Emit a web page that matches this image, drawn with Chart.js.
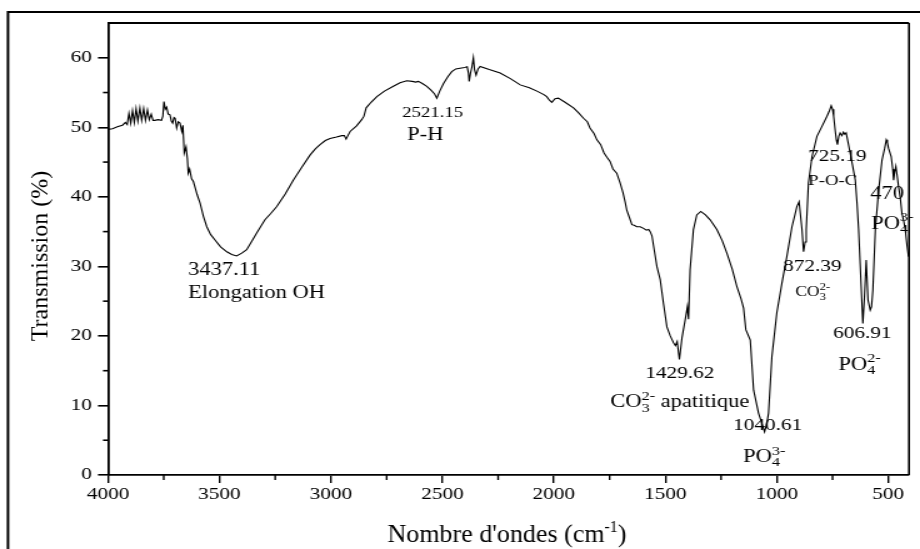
<!DOCTYPE html>
<html>
<head>
<meta charset="utf-8">
<script src="https://cdn.jsdelivr.net/npm/chart.js@4.4.1/dist/chart.umd.min.js"></script>
<style>
    html, body { margin: 0; padding: 0; background: #fff; overflow: hidden; }
    /* le graphique d'origine est étiré horizontalement */
    #cadre { width: 736px; height: 549px; transform: scaleX(1.25); transform-origin: 0 0; }
</style>
</head>
<body>
<div id="cadre"><canvas id="ftir" width="736" height="549"></canvas></div>
<script>
// Spectre IR : nombre d'ondes (cm-1) et transmission (%)
const nombreOnde = [
    4000, 3980, 3955, 3935, 3922, 3914, 3906, 3898, 3890, 3882, 3874, 3866, 3857, 3849, 3840, 3832,
    3823, 3815, 3806, 3798, 3790, 3775, 3760, 3754, 3749, 3743, 3737,
    3730, 3722, 3716, 3710, 3704, 3699, 3692, 3685, 3677, 3669, 3664, 3658, 3650, 3644, 3640, 3634,
    3625, 3617, 3600, 3587, 3572, 3557, 3540, 3520, 3495, 3467, 3445, 3423, 3400, 3378, 3355, 3333,
    3296, 3270, 3243, 3205, 3169, 3130, 3094, 3070, 3049, 3025, 3004, 2975, 2951, 2940, 2932, 2924,
    2914, 2885, 2862, 2852, 2842, 2820, 2794, 2760, 2720, 2690, 2660, 2635, 2620, 2608, 2590, 2570,
    2550, 2535, 2525, 2512, 2495, 2475, 2458, 2440, 2421, 2400, 2389, 2383, 2380, 2374, 2368, 2361,
    2356, 2349, 2340, 2331, 2290, 2241, 2195, 2151, 2110, 2076, 2045, 2032, 2020, 2009, 1995, 1980,
    1950, 1912, 1890, 1867, 1850, 1838, 1820, 1807, 1790, 1775, 1762, 1748, 1735, 1718, 1703, 1690,
    1680, 1673, 1662, 1650, 1640, 1628, 1613, 1600, 1585, 1575, 1568, 1560, 1550, 1538, 1523, 1508,
    1493, 1478, 1463, 1455, 1447, 1437, 1425, 1411, 1401, 1396, 1389, 1374, 1359, 1341, 1320, 1299,
    1269, 1245, 1224, 1200, 1179, 1160, 1149, 1139, 1119, 1104, 1082, 1065, 1055, 1045, 1037, 1022,
    1007, 1000, 977, 955, 932, 918, 910, 900, 887, 880, 873, 868, 858, 842, 820, 798,
    775, 765, 756, 750, 745, 738, 733, 728, 722, 716, 708, 701, 695, 689, 680, 671,
    660, 648, 640, 633, 623, 614, 607, 599, 591, 581, 575, 569, 558, 543, 528, 516,
    509, 504, 499, 487, 480, 476, 471, 466, 460, 454, 446, 439, 430, 424, 416, 409
];
const transmission = [
    49.7, 49.8, 50.1, 50.3, 50.7, 50.4, 52.0, 50.6, 52.4, 50.7, 52.7, 50.9, 52.8, 51.0, 52.7, 51.0,
    52.5, 51.1, 51.9, 51.0, 51.0, 51.1, 51.0, 51.6, 53.7, 52.6, 52.9,
    51.9, 51.8, 50.9, 50.6, 51.4, 51.3, 49.9, 50.8, 50.6, 49.4, 50.3, 46.3, 47.2, 45.5, 43.4, 44.0,
    42.6, 42.2, 40.3, 39.1, 37.2, 35.7, 34.6, 33.8, 32.8, 32.1, 31.7, 31.5, 31.9, 32.4, 33.6, 34.8,
    36.7, 37.6, 38.6, 40.4, 42.4, 44.3, 46.0, 46.9, 47.5, 48.1, 48.4, 48.6, 48.8, 48.8, 48.3, 48.8,
    49.4, 50.2, 51.1, 51.6, 52.8, 53.6, 54.4, 55.2, 55.9, 56.4, 56.7, 56.6, 56.5, 56.6, 56.3, 55.9,
    55.3, 54.8, 54.2, 55.2, 56.3, 57.3, 58.0, 58.4, 58.5, 58.6, 58.7, 57.8, 56.6, 57.8, 58.6, 60.0,
    58.3, 57.5, 58.4, 58.75, 58.3, 57.8, 57.0, 56.1, 55.7, 55.2, 54.7, 54.4, 53.9, 53.6, 54.1, 54.2,
    53.6, 52.8, 52.1, 51.3, 50.8, 49.9, 49.1, 48.2, 47.5, 46.3, 45.7, 45.1, 44.0, 43.4, 42.0, 40.6,
    39.2, 38.1, 37.1, 36.0, 35.9, 35.7, 35.7, 35.5, 35.2, 35.3, 35.0, 34.4, 32.4, 30.0, 28.1, 24.6,
    21.3, 20.0, 19.0, 18.6, 19.2, 16.6, 19.8, 22.3, 24.2, 22.4, 29.5, 35.3, 37.4, 37.9, 37.4, 36.7,
    35.3, 33.7, 31.9, 29.6, 27.1, 25.3, 24.0, 20.9, 19.4, 12.2, 8.9, 7.2, 6.2, 7.4, 8.9, 17.0,
    21.3, 23.3, 27.6, 31.4, 35.7, 37.5, 38.6, 39.3, 35.3, 32.1, 33.5, 35.3, 42.0, 45.8, 48.7, 50.1,
    51.6, 52.3, 53.1, 52.6, 51.6, 49.5, 48.2, 47.5, 48.7, 49.2, 48.8, 49.3, 49.0, 49.2, 47.8, 46.3,
    44.5, 42.4, 39.0, 35.3, 28.1, 21.8, 25.5, 30.9, 25.2, 23.7, 24.2, 26.6, 35.3, 41.0, 45.3, 47.0,
    48.2, 47.8, 47.0, 45.8, 44.0, 42.4, 43.6, 44.4, 43.0, 41.5, 39.8, 37.7, 36.4, 35.3, 33.0, 31.4
];

const xTicks = [4000, 3500, 3000, 2500, 2000, 1500, 1000, 500];
const xMinor = [3750, 3250, 2750, 2250, 1750, 1250, 750];
const yTicks = [0, 10, 20, 30, 40, 50, 60];
const yMinor = [5, 15, 25, 35, 45, 55];

// Attributions des bandes (position en cm-1 / %)
const etiquettes = [
    { wn: 3641, t: 29.5, txt: '3437.11', taille: 18 },
    { wn: 3641, t: 26.2, txt: 'Elongation OH', taille: 18 },
    { wn: 2681, t: 52.1, txt: '2521.15', taille: 15 },
    { wn: 2658, t: 48.8, txt: 'P-H', taille: 18 },
    { wn: 859, t: 45.8, txt: '725.19', taille: 17 },
    { wn: 859, t: 42.3, txt: 'P-O-C', taille: 15 },
    { wn: 581, t: 40.4, txt: '470', taille: 18 },
    { wn: 576, t: 36.1, txt: 'PO', sub: '4', sup: '3-', taille: 18 },
    { wn: 971, t: 30.0, txt: '872.39', taille: 17 },
    { wn: 917, t: 26.2, txt: 'CO', sub: '3', sup: '2-', taille: 14 },
    { wn: 747, t: 20.3, txt: '606.91', taille: 17 },
    { wn: 724, t: 15.8, txt: 'PO', sub: '4', sup: '2-', taille: 18 },
    { wn: 1590, t: 14.6, txt: '1429.62', taille: 17 },
    { wn: 1747, t: 10.4, txt: 'CO', sub: '3', sup: '2-', suite: ' apatitique', taille: 18 },
    { wn: 1196, t: 7.05, txt: '1040.61', taille: 17 },
    { wn: 1151, t: 2.5, txt: 'PO', sub: '4', sup: '3-', taille: 18 }
];

const police = '"Liberation Serif", "Times New Roman", serif';
const etirement = 1.25;

function texteChimie(ctx, x, y, e) {
    ctx.font = e.taille + 'px ' + police;
    ctx.textAlign = 'left';
    ctx.textBaseline = 'middle';
    ctx.fillText(e.txt, x, y);
    let w = ctx.measureText(e.txt).width;
    if (e.sub || e.sup) {
        const petit = Math.round(e.taille * 0.7);
        ctx.font = petit + 'px ' + police;
        let wIdx = 0;
        if (e.sup) {
            ctx.fillText(e.sup, x + w, y - e.taille * 0.36);
            wIdx = Math.max(wIdx, ctx.measureText(e.sup).width);
        }
        if (e.sub) {
            ctx.fillText(e.sub, x + w, y + e.taille * 0.3);
            wIdx = Math.max(wIdx, ctx.measureText(e.sub).width);
        }
        w += wIdx;
    }
    if (e.suite) {
        ctx.font = e.taille + 'px ' + police;
        ctx.fillText(e.suite, x + w, y);
    }
}

const decor = {
    id: 'decor',
    beforeDraw(chart) {
        const ctx = chart.ctx;
        ctx.save();
        ctx.fillStyle = '#fff';
        ctx.fillRect(0, 0, chart.width, chart.height);
        ctx.restore();
    },
    afterDraw(chart) {
        const { ctx, chartArea: a, scales: { x, y } } = chart;
        ctx.save();
        ctx.strokeStyle = '#000';
        ctx.fillStyle = '#000';

        // cadre extérieur
        ctx.lineWidth = 2;
        ctx.beginPath();
        ctx.moveTo(6.4, chart.height);
        ctx.lineTo(6.4, 12);
        ctx.lineTo(chart.width, 12);
        ctx.stroke();

        // axes haut et droite
        ctx.lineWidth = 1.8;
        ctx.beginPath();
        ctx.moveTo(a.left, a.top);
        ctx.lineTo(a.right, a.top);
        ctx.stroke();
        ctx.lineWidth = 1.6;
        ctx.beginPath();
        ctx.moveTo(a.right, a.top);
        ctx.lineTo(a.right, a.bottom);
        ctx.stroke();

        // graduations secondaires
        ctx.lineWidth = 1.4;
        xMinor.forEach(v => {
            const px = x.getPixelForValue(v);
            ctx.beginPath();
            ctx.moveTo(px, a.bottom);
            ctx.lineTo(px, a.bottom + 5);
            ctx.stroke();
        });
        ctx.lineWidth = 1.6;
        yMinor.forEach(v => {
            const py = y.getPixelForValue(v);
            ctx.beginPath();
            ctx.moveTo(a.left, py);
            ctx.lineTo(a.left - 4, py);
            ctx.stroke();
        });

        // titres des axes, sans étirement (repère = pixels écran)
        ctx.save();
        ctx.scale(1 / etirement, 1);
        ctx.save();
        ctx.translate(41, 256);
        ctx.rotate(-Math.PI / 2);
        ctx.font = '24px ' + police;
        ctx.textAlign = 'center';
        ctx.textBaseline = 'middle';
        ctx.fillText('Transmission (%)', 0, 0);
        ctx.restore();

        ctx.font = '26px ' + police;
        ctx.textBaseline = 'alphabetic';
        ctx.textAlign = 'left';
        const p1 = 'Nombre d\'ondes (cm';
        const w1 = ctx.measureText(p1).width;
        ctx.font = '16px ' + police;
        const w2 = ctx.measureText('-1').width;
        ctx.font = '26px ' + police;
        const w3 = ctx.measureText(')').width;
        const x0 = 507 - (w1 + w2 + w3) / 2;
        const base = 542;
        ctx.fillText(p1, x0, base);
        ctx.font = '16px ' + police;
        ctx.fillText('-1', x0 + w1, base - 10);
        ctx.font = '26px ' + police;
        ctx.fillText(')', x0 + w1 + w2, base);
        ctx.restore();

        // attributions
        etiquettes.forEach(e => {
            texteChimie(ctx, x.getPixelForValue(e.wn), y.getPixelForValue(e.t), e);
        });
        ctx.restore();
    }
};

const points = nombreOnde.map((w, i) => ({ x: w, y: transmission[i] }));

new Chart(document.getElementById('ftir'), {
    type: 'line',
    data: {
        datasets: [{
            data: points,
            borderColor: '#000',
            borderWidth: 1.1,
            pointRadius: 0,
            tension: 0,
            fill: false
        }]
    },
    options: {
        responsive: false,
        animation: false,
        devicePixelRatio: 1,
        layout: { padding: { left: 0, right: 8.8, top: 23, bottom: 0 } },
        plugins: {
            legend: { display: false },
            tooltip: { enabled: false }
        },
        scales: {
            x: {
                type: 'linear',
                reverse: true,
                min: 407,
                max: 4000,
                afterBuildTicks: s => { s.ticks = xTicks.map(v => ({ value: v })); },
                afterFit: s => { s.height = 74; },
                ticks: {
                    color: '#000',
                    font: { family: police, size: 17 },
                    padding: 1,
                    maxRotation: 0,
                    autoSkip: false,
                    callback: v => String(v)
                },
                grid: { drawOnChartArea: false, tickLength: 8, color: '#000', lineWidth: 1.4 },
                border: { color: '#000', width: 1.8 }
            },
            y: {
                min: 0,
                max: 65,
                afterBuildTicks: s => { s.ticks = yTicks.map(v => ({ value: v })); },
                afterFit: s => { s.width = 86.4; },
                ticks: {
                    color: '#000',
                    font: { family: police, size: 17 },
                    padding: 5,
                    callback: v => String(v)
                },
                grid: { drawOnChartArea: false, tickLength: 8, color: '#000', lineWidth: 1.6 },
                border: { color: '#000', width: 1.8 }
            }
        }
    },
    plugins: [decor]
});
</script>
</body>
</html>
